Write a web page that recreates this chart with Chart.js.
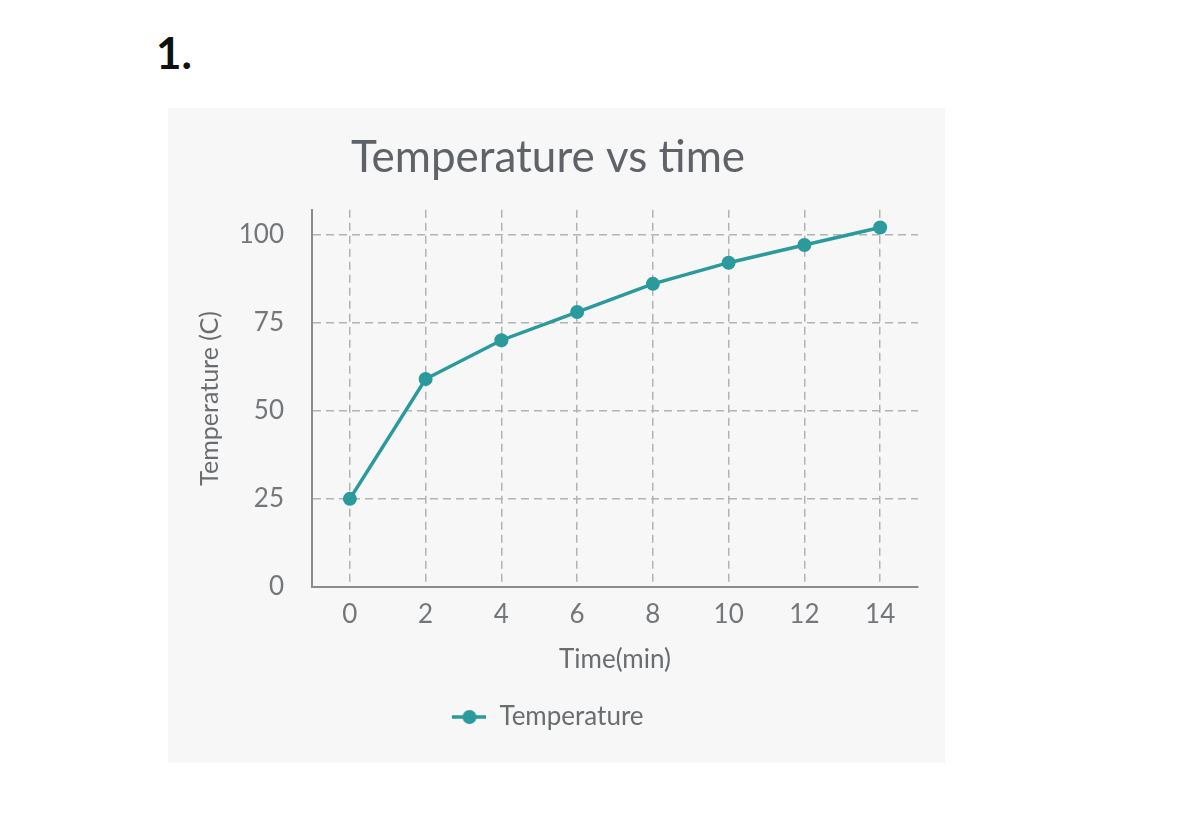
<!DOCTYPE html>
<html>
<head>
<meta charset="utf-8">
<script src="https://cdn.jsdelivr.net/npm/chart.js@4/dist/chart.umd.min.js"></script>
<style>
  body { margin: 0; background: #fff; width: 1200px; height: 822px; position: relative; }
  #num { position: absolute; left: 156px; top: 26px; font: bold 44px Lato, sans-serif; color: #111; }
  #panel { position: absolute; left: 168px; top: 108px; width: 777px; height: 655px; background: #f7f7f8; }
</style>
</head>
<body>
<div id="num">1.</div>
<div id="panel"><canvas id="tempChart" width="777" height="655"></canvas></div>
<script>
// Dados
const timeLabels = ['0', '2', '4', '6', '8', '10', '12', '14'];
const temperatures = [25, 59, 70, 78, 86, 92, 97, 102];
const yTicks = [0, 25, 50, 75, 100];

const teal = '#2a9a9c';
const gridGray = '#b3b3b3';
const textGray = '#74777a';

// Ícone da legenda: linha com círculo
const legendIcon = document.createElement('canvas');
legendIcon.width = 34;
legendIcon.height = 16;
const ictx = legendIcon.getContext('2d');
ictx.strokeStyle = teal;
ictx.lineWidth = 3.5;
ictx.beginPath();
ictx.moveTo(0, 8);
ictx.lineTo(34, 8);
ictx.stroke();
ictx.fillStyle = teal;
ictx.beginPath();
ictx.arc(17, 8, 7, 0, Math.PI * 2);
ictx.fill();

const ctx = document.getElementById('tempChart');
new Chart(ctx, {
    type: 'line',
    data: {
        labels: timeLabels,
        datasets: [{
            label: 'Temperature',
            data: temperatures,
            borderColor: teal,
            backgroundColor: teal,
            borderWidth: 3.5,
            pointRadius: 7,
            pointHoverRadius: 7,
            pointBackgroundColor: teal,
            pointBorderWidth: 0,
            tension: 0
        }]
    },
    options: {
        responsive: false,
        animation: false,
        layout: { padding: { left: 10, right: 27, top: 0, bottom: 23 } },
        scales: {
            x: {
                type: 'category',
                offset: true,
                afterFit: (scale) => { scale.height = 107; },
                grid: { color: gridGray, lineWidth: 1.5, offset: false, drawTicks: false },
                border: { color: '#8a8c8f', width: 2, dash: [8, 5] },
                ticks: { color: textGray, padding: 12, font: { family: 'Lato', size: 26 } },
                title: {
                    display: true,
                    text: 'Time(min)',
                    color: '#6a6d70',
                    padding: { top: 0, bottom: 19 },
                    font: { family: 'Lato', size: 26 }
                }
            },
            y: {
                min: 0,
                max: 107,
                afterBuildTicks: (scale) => {
                    scale.ticks = yTicks.map(v => ({ value: v }));
                },
                afterFit: (scale) => { scale.width = 134; },
                grid: { color: gridGray, lineWidth: 1.5, drawTicks: false },
                border: { color: '#8a8c8f', width: 2, dash: [8, 5] },
                ticks: { color: textGray, padding: 28, font: { family: 'Lato', size: 26 } },
                title: {
                    display: true,
                    text: 'Temperature (C)',
                    color: '#6a6d70',
                    padding: { top: 17, bottom: 0 },
                    font: { family: 'Lato', size: 25 }
                }
            }
        },
        plugins: {
            title: {
                display: true,
                text: 'Temperature vs time',
                color: '#5f6368',
                padding: { top: 23, bottom: 26 },
                font: { family: 'Lato', size: 44, weight: 'normal' }
            },
            legend: {
                position: 'bottom',
                labels: {
                    usePointStyle: true,
                    pointStyle: legendIcon,
                    pointStyleWidth: 34,
                    boxHeight: 16,
                    color: '#6a6d70',
                    font: { family: 'Lato', size: 26 }
                }
            },
            tooltip: { enabled: false }
        }
    }
});
</script>
</body>
</html>
